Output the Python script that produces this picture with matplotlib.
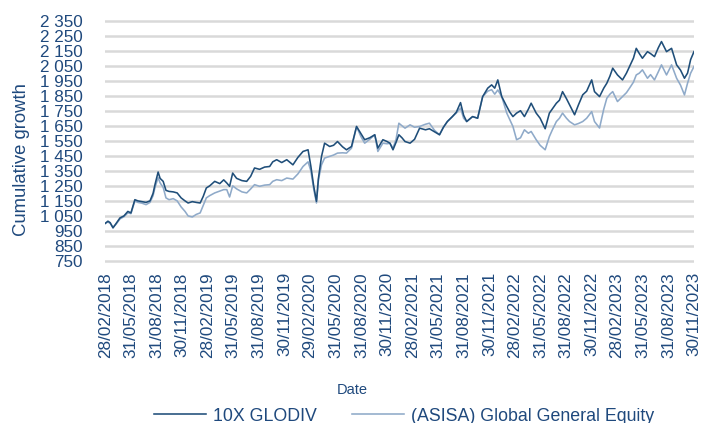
import matplotlib
matplotlib.use("Agg")
import matplotlib.pyplot as plt
from matplotlib.ticker import FuncFormatter, FixedLocator
import pandas as pd

plt.rcParams['font.family'] = ['Liberation Sans', 'DejaVu Sans']

dates = [
    "2018-02-28", "2018-03-10", "2018-03-18", "2018-03-28", "2018-04-08", "2018-04-22", "2018-05-06", "2018-05-20",
    "2018-05-31", "2018-06-14", "2018-06-25", "2018-07-09", "2018-07-24", "2018-08-07", "2018-08-18", "2018-08-25",
    "2018-09-05", "2018-09-12", "2018-09-23", "2018-10-03", "2018-10-14", "2018-10-29", "2018-11-12", "2018-11-26",
    "2018-12-10", "2018-12-21", "2019-01-05", "2019-01-19", "2019-02-02", "2019-02-13", "2019-02-24", "2019-03-08",
    "2019-03-26", "2019-04-13", "2019-04-27", "2019-05-08", "2019-05-18", "2019-05-29", "2019-06-12", "2019-07-01",
    "2019-07-18", "2019-08-01", "2019-08-15", "2019-09-02", "2019-09-20", "2019-10-08", "2019-10-19", "2019-11-02",
    "2019-11-20", "2019-12-08", "2019-12-30", "2020-01-17", "2020-02-04", "2020-02-22", "2020-03-03", "2020-03-13",
    "2020-03-23", "2020-03-30", "2020-04-10", "2020-04-21", "2020-05-09", "2020-05-23", "2020-06-06", "2020-06-24",
    "2020-07-08", "2020-07-26", "2020-08-13", "2020-08-28", "2020-09-11", "2020-09-29", "2020-10-17", "2020-10-28",
    "2020-11-15", "2020-11-30", "2020-12-10", "2020-12-21", "2021-01-01", "2021-01-11", "2021-01-22", "2021-02-02",
    "2021-02-20", "2021-03-08", "2021-03-26", "2021-04-16", "2021-04-30", "2021-05-18", "2021-06-05", "2021-06-19",
    "2021-07-03", "2021-07-21", "2021-08-04", "2021-08-19", "2021-08-30", "2021-09-10", "2021-10-01", "2021-10-19",
    "2021-11-06", "2021-11-24", "2021-12-08", "2021-12-19", "2021-12-30", "2022-01-13", "2022-01-31", "2022-02-11",
    "2022-02-22", "2022-03-07", "2022-03-21", "2022-04-04", "2022-04-18", "2022-04-28", "2022-05-16", "2022-05-30",
    "2022-06-17", "2022-07-02", "2022-07-12", "2022-07-27", "2022-08-07", "2022-08-18", "2022-09-01", "2022-09-12",
    "2022-09-30", "2022-10-14", "2022-10-29", "2022-11-12", "2022-11-30", "2022-12-10", "2022-12-28", "2023-01-12",
    "2023-01-23", "2023-02-03", "2023-02-13", "2023-03-02", "2023-03-20", "2023-04-03", "2023-04-14", "2023-04-28",
    "2023-05-08", "2023-05-19", "2023-05-30", "2023-06-17", "2023-06-28", "2023-07-12", "2023-07-26", "2023-08-06",
    "2023-08-24", "2023-09-11", "2023-09-29", "2023-10-13", "2023-10-27", "2023-11-07", "2023-11-18", "2023-11-30",
]

glodiv = [
    1000, 1015, 1005, 970, 1000, 1037, 1050, 1080,
    1070, 1158, 1150, 1145, 1140, 1150, 1200, 1260,
    1342, 1300, 1280, 1220, 1213, 1210, 1203, 1170,
    1150, 1136, 1145, 1140, 1136, 1180, 1236, 1250,
    1280, 1265, 1290, 1269, 1247, 1335, 1300, 1285,
    1280, 1313, 1369, 1360, 1375, 1379, 1410, 1424,
    1405, 1424, 1390, 1440, 1479, 1490, 1380, 1250,
    1147, 1300, 1446, 1534, 1512, 1520, 1545, 1510,
    1490, 1512, 1645, 1600, 1557, 1570, 1590, 1501,
    1557, 1545, 1534, 1490, 1540, 1590, 1570, 1545,
    1534, 1560, 1634, 1623, 1630, 1610, 1590, 1640,
    1678, 1711, 1740, 1804, 1720, 1678, 1711, 1700,
    1844, 1900, 1922, 1900, 1955, 1844, 1778, 1740,
    1711, 1734, 1750, 1711, 1760, 1800, 1734, 1700,
    1630, 1734, 1760, 1800, 1820, 1877, 1830, 1789,
    1723, 1790, 1856, 1880, 1955, 1877, 1844, 1900,
    1933, 1980, 2033, 1988, 1955, 2000, 2044, 2100,
    2165, 2130, 2099, 2143, 2130, 2110, 2170, 2210,
    2143, 2165, 2055, 2020, 1966, 2000, 2090, 2143,
]

asisa = [
    1000, 1010, 1000, 975, 995, 1030, 1045, 1070,
    1065, 1150, 1140, 1135, 1125, 1140, 1185, 1240,
    1305, 1270, 1240, 1170, 1158, 1165, 1150, 1110,
    1080, 1050, 1043, 1060, 1070, 1120, 1170, 1185,
    1203, 1215, 1225, 1225, 1176, 1250, 1230, 1210,
    1203, 1229, 1258, 1247, 1255, 1258, 1280, 1291,
    1285, 1302, 1295, 1330, 1379, 1410, 1350, 1230,
    1136, 1290, 1390, 1435, 1446, 1455, 1468, 1470,
    1468, 1501, 1645, 1580, 1534, 1560, 1590, 1479,
    1534, 1530, 1534, 1501, 1560, 1667, 1650, 1634,
    1656, 1640, 1645, 1660, 1667, 1620, 1590, 1640,
    1678, 1711, 1735, 1767, 1700, 1678, 1711, 1700,
    1844, 1880, 1890, 1860, 1888, 1844, 1734, 1690,
    1645, 1557, 1570, 1623, 1600, 1612, 1557, 1520,
    1490, 1578, 1620, 1678, 1700, 1734, 1700, 1678,
    1656, 1665, 1678, 1700, 1744, 1678, 1635, 1760,
    1833, 1860, 1877, 1811, 1844, 1870, 1900, 1940,
    1988, 2000, 2022, 1966, 1990, 1955, 2010, 2055,
    1988, 2055, 1966, 1920, 1855, 1933, 2000, 2044,
]

series_names = ["10X GLODIV", "(ASISA) Global General Equity"]
tick_dates = pd.date_range("2018-02-28", "2023-11-30", freq="3ME")
y_ticks = list(range(750, 2351, 100))

dt = pd.to_datetime(dates)

fig = plt.figure(figsize=(7.01, 4.23), dpi=100)
ax = fig.add_axes([0.15, 0.3794, 0.84, 0.5756])

dark = "#1F4E79"
light = "#8FAAC9"
text_c = "#1F497D"

ax.plot(dt, asisa, color=light, lw=1.15, label=series_names[1], zorder=3)
ax.plot(dt, glodiv, color=dark, lw=1.15, label=series_names[0], zorder=4)

ax.set_ylim(740, 2360)
ax.set_xlim(pd.Timestamp("2018-02-28"), pd.Timestamp("2023-11-30"))
ax.yaxis.set_major_locator(FixedLocator(y_ticks))
ax.yaxis.set_major_formatter(FuncFormatter(lambda v, p: f"{v:,.0f}".replace(",", " ")))
ax.set_xticks(tick_dates)
ax.set_xticklabels([d.strftime("%d/%m/%Y") for d in tick_dates], rotation=90)

ax.grid(axis="y", color="#D9D9D9", lw=1.8, zorder=0)
ax.grid(axis="x", visible=False)
for s in ax.spines.values():
    s.set_visible(False)
ax.tick_params(axis="both", length=0, colors=text_c, labelsize=12.3)
ax.tick_params(axis="y", pad=16)
ax.tick_params(axis="x", pad=7)

fig.text(0.031, 1 - 160 / 423, "Cumulative growth", color=text_c, fontsize=13.3,
         rotation=90, ha="center", va="center")
fig.text(352.5 / 701, 1 - 390 / 423, "Date", color=text_c, fontsize=10.5,
         ha="center", va="center")

handles, labels = ax.get_legend_handles_labels()
leg = fig.legend(handles[::-1], labels[::-1], loc="center", bbox_to_anchor=(404 / 701, 1 - 416 / 423),
                 ncol=2, frameon=False, fontsize=12.8, handlelength=2.9, columnspacing=2.0,
                 handletextpad=0.4, labelcolor=text_c, borderpad=0, borderaxespad=0)

fig.savefig("out.png", dpi=100)
